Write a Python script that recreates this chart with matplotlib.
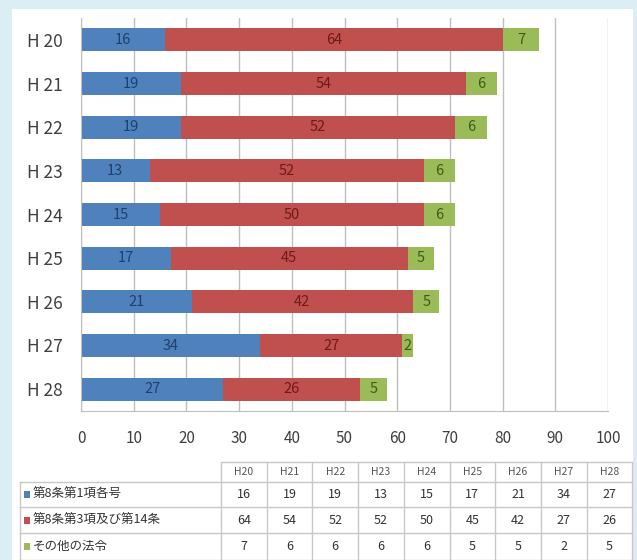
import matplotlib.pyplot as plt
from matplotlib.patches import Rectangle

plt.rcParams['font.family'] = ['Noto Sans CJK JP', 'DejaVu Sans']

years = ['H 20', 'H 21', 'H 22', 'H 23', 'H 24', 'H 25', 'H 26', 'H 27', 'H 28']
table_years = ['H20', 'H21', 'H22', 'H23', 'H24', 'H25', 'H26', 'H27', 'H28']
art8_1 = [16, 19, 19, 13, 15, 17, 21, 34, 27]
art8_3 = [64, 54, 52, 52, 50, 45, 42, 27, 26]
other = [7, 6, 6, 6, 6, 5, 5, 2, 5]
series_names = ['第8条第1項各号', '第8条第3項及び第14条', 'その他の法令']
x_ticks = [0, 10, 20, 30, 40, 50, 60, 70, 80, 90, 100]

colors = ['#4f81bd', '#c0504d', '#9bbb59']
label_colors = ['#1f3f6e', '#6e1a18', '#3f5a1a']

W, H = 637, 560
fig = plt.figure(figsize=(W / 100, H / 100), dpi=100, facecolor='#daeef4')

# background axes holding the white panel and the data table
tx = fig.add_axes([0, 0, 1, 1], zorder=-5)
tx.set_xlim(0, W)
tx.set_ylim(H, 0)
tx.axis('off')
tx.add_patch(Rectangle((12, 9), 621, H - 9, facecolor='white', edgecolor='none'))

ax = fig.add_axes([81 / W, 1 - 411 / H, 527 / W, 393 / H])
ax.set_facecolor('none')

ypos = list(range(len(years)))
left = [0] * len(years)
for vals, c, lc in zip([art8_1, art8_3, other], colors, label_colors):
    bars = ax.barh(ypos, vals, left=left, height=0.53, color=c, zorder=2)
    ax.bar_label(bars, label_type='center', color=lc, fontsize=10.5)
    left = [a + b for a, b in zip(left, vals)]

ax.set_ylim(len(years) - 0.5, -0.5)
ax.set_xlim(0, 100)
ax.set_yticks(ypos)
ax.set_yticklabels(years, fontsize=12.5, color='#404040')
ax.set_xticks(x_ticks)
ax.set_xticklabels([str(t) for t in x_ticks], fontsize=11, color='#404040')
ax.tick_params(axis='x', length=0, pad=14)
ax.tick_params(axis='y', length=0, pad=13)
ax.grid(axis='x', color='#bfbfbf', linewidth=1, zorder=0)
for s in ['top', 'right']:
    ax.spines[s].set_visible(False)
ax.spines['left'].set_color('#bfbfbf')
ax.spines['bottom'].set_color('#bfbfbf')

# data table below the chart
label_left, col0, col_w = 20, 221, 45.7
row_edges = [462, 482, 507, 533, 560]
line_c = '#c8c8c8'
right_edge = col0 + col_w * len(table_years)
tx.plot([col0, right_edge], [row_edges[0]] * 2, color=line_c, lw=1)
for yy in row_edges[1:]:
    tx.plot([label_left, right_edge], [yy, yy], color=line_c, lw=1)
tx.plot([label_left, label_left], [row_edges[1], H], color=line_c, lw=1)
for i in range(len(table_years) + 1):
    xx = col0 + i * col_w
    tx.plot([xx, xx], [row_edges[0], H], color=line_c, lw=1)

for i, yname in enumerate(table_years):
    tx.text(col0 + (i + 0.5) * col_w, (row_edges[0] + row_edges[1]) / 2, yname,
            ha='center', va='center', fontsize=7.5, color='#555555')

for r, (name, vals) in enumerate(zip(series_names, [art8_1, art8_3, other])):
    yc = (row_edges[r + 1] + row_edges[r + 2]) / 2
    tx.add_patch(Rectangle((24, yc - 3.5), 6, 7, facecolor=colors[r], edgecolor='none'))
    tx.text(33, yc, name, ha='left', va='center', fontsize=9, color='#333333')
    for i, v in enumerate(vals):
        tx.text(col0 + (i + 0.5) * col_w, yc, str(v), ha='center', va='center',
                fontsize=9, color='#333333')

fig.savefig('out.png', dpi=100, facecolor=fig.get_facecolor())
